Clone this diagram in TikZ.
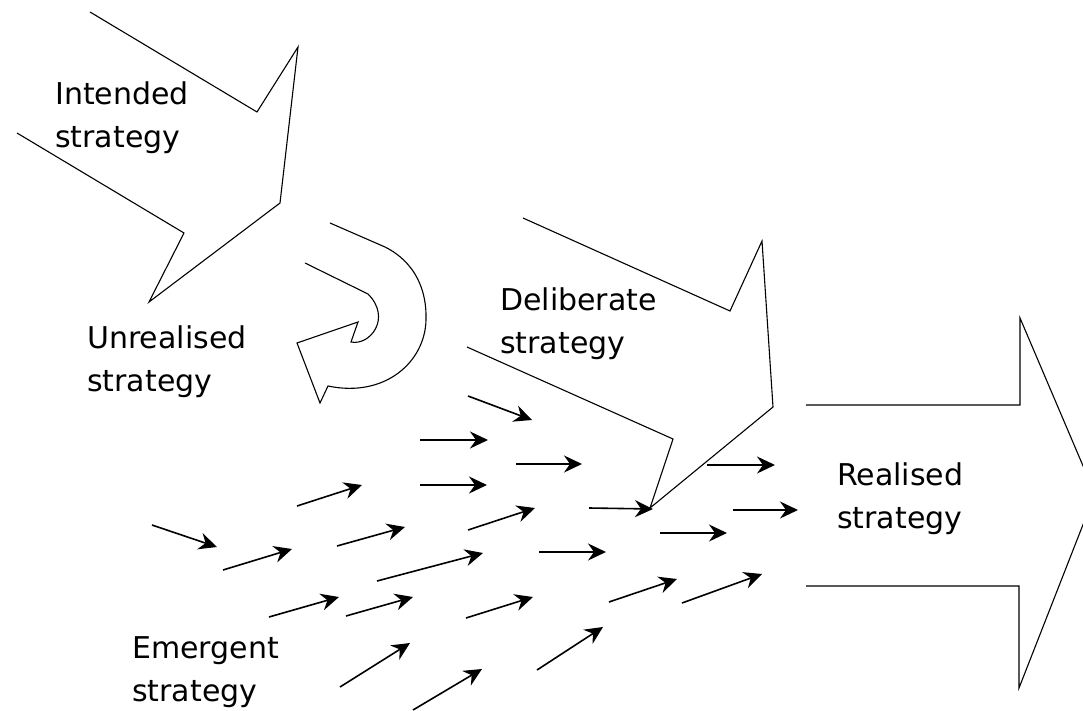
\documentclass[tikz,border=0pt]{standalone}
\usepackage{fontspec}
\setmainfont{DejaVu Sans}
\usetikzlibrary{arrows.meta}
\tikzset{
  outline/.style={draw=black, line width=1.1pt, line join=miter},
  small/.style={draw=black, line width=1.6pt, -{Stealth[length=18pt,width=17pt,inset=6pt]}},
  lbl/.style={anchor=base west, inner sep=0pt, font=\fontsize{30}{43}\selectfont}
}
\newcommand{\twoline}[2]{\begin{tabular}[t]{@{}l@{}}#1\\#2\end{tabular}}
\begin{document}
\begin{tikzpicture}[x=1pt,y=-1pt]
\useasboundingbox (0,0) rectangle (1083,711);
\fill[white] (0,0) rectangle (1083,711);

% Intended strategy arrow
\draw[outline] (90,12) -- (257,112) -- (298,47) -- (280,203) -- (149,302) -- (184,233) -- (17,133);

% Unrealised (curved) arrow
\draw[outline] (330,223) -- (385,247) .. controls (415,262) and (427,290) .. (426,320)
  .. controls (425,362) and (385,398) .. (328,386) -- (320,403) -- (297,343) -- (358,322) -- (351,342)
  .. controls (370,346) and (392,318) .. (368,294) -- (305,263);

% Deliberate strategy arrow
\draw[outline] (523,218) -- (730,311) -- (762,241) -- (773,407) -- (650,508) -- (673,439) -- (467,347);

% Realised strategy arrow
\begin{scope}
\clip (0,0) rectangle (1083,711);
\draw[outline] (806,405) -- (1020,405) -- (1020,318) -- (1095,494) -- (1019,688) -- (1019,586) -- (806,586);
\end{scope}

% Labels
\node[lbl] (intended) at (55,105) {\twoline{Intended}{strategy}};
\node[lbl] (unrealised) at (87,348) {\twoline{Unrealised}{strategy}};
\node[lbl] (deliberate) at (500,310) {\twoline{Deliberate}{strategy}};
\node[lbl] (realised) at (837,485) {\twoline{Realised}{strategy}};
\node[lbl] (emergent) at (132,658) {\twoline{Emergent}{strategy}};

% Emergent small arrows
\foreach \i/\sx/\sy/\ex/\ey in {
  1/468/396/532/420, 2/420/440/488/440, 3/516/464/582/464, 4/420/485/487/485,
  5/297/506/362/485, 6/152/525/217/547, 7/223/570/292/549, 8/337/546/405/527,
  9/468/530/535/508, 10/539/552/606/552, 11/377/581/483/553, 12/269/617/339/597,
  13/346/616/413/597, 14/466/618/533/597, 15/589/508/653/509, 16/707/465/775/465,
  17/660/533/727/533, 18/733/510/798/510, 19/609/602/677/579, 20/682/603/762/574,
  21/340/687/410/643, 22/413/710/482/669, 23/537/670/603/627}{
  \coordinate (s\i) at (\sx,\sy);
  \coordinate (e\i) at (\ex,\ey);
  \draw[small] (s\i) -- (e\i);
}
\end{tikzpicture}
\end{document}
